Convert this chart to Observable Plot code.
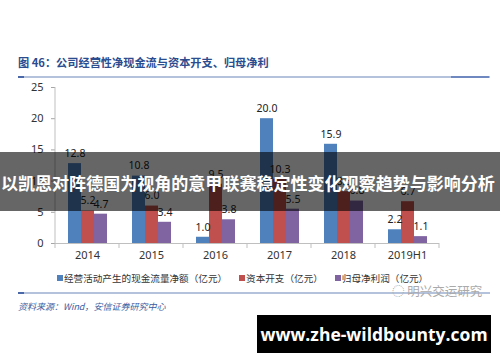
<!DOCTYPE html>
<html>
<head>
<meta charset="utf-8">
<script src="https://cdn.jsdelivr.net/npm/d3@7"></script>
<script src="https://cdn.jsdelivr.net/npm/@observablehq/plot@0.6"></script>
<style>
  html, body { margin: 0; padding: 0; background: #fff; }
  #root { position: relative; width: 500px; height: 362px; overflow: hidden; background: #fff;
    font-family: "Noto Sans", "Noto Sans CJK SC", sans-serif; }
  .abs { position: absolute; }
  #title { left: 18px; top: 54px; font-size: 11.2px; font-weight: bold; color: #2b4c8f; white-space: nowrap;
    font-family: "Noto Sans CJK SC", sans-serif; }
  .hline { height: 2px; background: #b4c2dc; }
  .seg { height: 2px; background: #4a68a8; }
  #chart { left: 0; top: 80px; }
  #legend { left: 57px; top: 271px; font-size: 9.6px; color: #333; white-space: nowrap;
    font-family: "Noto Sans CJK SC", sans-serif; }
  #legend span.item { margin-right: 12px; }
  #legend span.sw { display: inline-block; width: 6px; height: 6px; margin-right: 1px; vertical-align: 1px; }
  #source { left: 18px; top: 300px; font-size: 9px; font-style: italic; color: #3d5c9e; white-space: nowrap;
    font-family: "Noto Sans CJK SC", sans-serif; }
  #wm { left: 392px; top: 281px; font-size: 12.5px; color: #aaa; white-space: nowrap;
    font-family: "Noto Sans CJK SC", sans-serif; }
  #banner { left: 0; top: 152px; width: 500px; height: 59px; background: rgba(0,0,0,0.6); color: #fff;
    font-family: "Noto Sans CJK SC", sans-serif; font-weight: bold; font-size: 17.05px; white-space: nowrap;
    line-height: 62px; padding-left: 1px; box-sizing: border-box; }
  #site { left: 257px; top: 315px; width: 234px; height: 38px; background: #000; color: #fff;
    font-family: "Open Sans", sans-serif; font-weight: bold; font-size: 17.5px; line-height: 38px; text-align: center; }
</style>
</head>
<body>
<div id="root">
  <div id="title" class="abs">图 46：公司经营性净现金流与资本开支、归母净利</div>
  <div class="abs hline" style="left:18px; top:76px; width:472px;"></div>
  <div class="abs seg" style="left:18px; top:76px; width:6px;"></div>
  <div class="abs seg" style="left:451px; top:76px; width:38px; background:#6f88bf;"></div>
  <div id="chart" class="abs"></div>
  <div id="legend" class="abs"></div>
  <div class="abs hline" style="left:18px; top:292px; width:472px;"></div>
  <div class="abs seg" style="left:18px; top:292px; width:6px;"></div>
  <div id="wm" class="abs">◌ 明兴交运研究</div>
  <div id="source" class="abs">资料来源：Wind，安信证券研究中心</div>
  <div id="banner" class="abs">以凯恩对阵德国为视角的意甲联赛稳定性变化观察趋势与影响分析</div>
  <div id="site" class="abs">www.zhe-wildbounty.com</div>
</div>
<script>
const years = ["2014", "2015", "2016", "2017", "2018", "2019H1"];
const series = ["经营活动产生的现金流量净额（亿元）", "资本开支（亿元）", "归母净利润（亿元）"];
const cashFlow = [12.8, 10.8, 1.0, 20.0, 15.9, 2.2];
const capex = [5.2, 6.0, 9.5, 10.3, 8.3, 6.7];
const netProfit = [4.7, 3.4, 3.8, 5.5, 6.8, 1.1];
const colors = ["#4F81BD", "#C0504D", "#8064A2"];
const yTicks = [0, 5, 10, 15, 20, 25];

const columns = [cashFlow, capex, netProfit];
const data = years.flatMap((yr, i) => columns.map((arr, j) => ({year: yr, series: series[j], value: arr[i]})));

const plot = Plot.plot({
  width: 500,
  height: 190,
  marginTop: 7,
  marginBottom: 27,
  marginLeft: 53,
  marginRight: 60,
  style: {fontFamily: '"Noto Sans", sans-serif', fontSize: "11px", color: "#333", background: "transparent", overflow: "visible"},
  fx: {domain: years, padding: 0, label: null},
  x: {domain: series, paddingInner: 0, paddingOuter: 0.8, axis: null},
  y: {domain: [0, 25], label: null},
  color: {domain: series, range: colors},
  marks: [
    Plot.axisY({ticks: yTicks, tickSize: 4, tickPadding: 8, stroke: "#a6a6a6", fill: "#333", label: null, fontSize: 11}),
    Plot.axisFx({anchor: "bottom", tickSize: 0, tickPadding: 8, label: null, fill: "#333", fontSize: 11}),
    Plot.ruleY([0], {stroke: "#bfbfbf"}),
    Plot.barY(data, {fx: "year", x: "series", y: "value", fill: "series"}),
    Plot.text(data, {fx: "year", x: "series", y: "value", text: d => d.value.toFixed(1), dy: -10, fill: "#222", fontSize: 10.5})
  ]
});

// category boundary ticks and y axis line, positioned with the plot's own scales
const fx = plot.scale("fx");
const ys = plot.scale("y");
const y0 = ys.apply(0), yTop = ys.apply(25);
const svg = d3.select(plot);
const g = svg.append("g").attr("stroke", "#bfbfbf").attr("stroke-width", 1);
const edges = years.map(yr => fx.apply(yr)).concat([fx.apply(years[years.length - 1]) + fx.bandwidth]);
edges.forEach(x => g.append("line").attr("x1", x).attr("x2", x).attr("y1", y0).attr("y2", y0 + 5));
g.append("line").attr("x1", edges[0]).attr("x2", edges[0]).attr("y1", yTop).attr("y2", y0);

document.getElementById("chart").appendChild(plot);

const legend = d3.select("#legend");
series.forEach((s, i) => {
  const item = legend.append("span").attr("class", "item");
  item.append("span").attr("class", "sw").style("background", colors[i]);
  item.append("span").text(s);
});
</script>
</body>
</html>
